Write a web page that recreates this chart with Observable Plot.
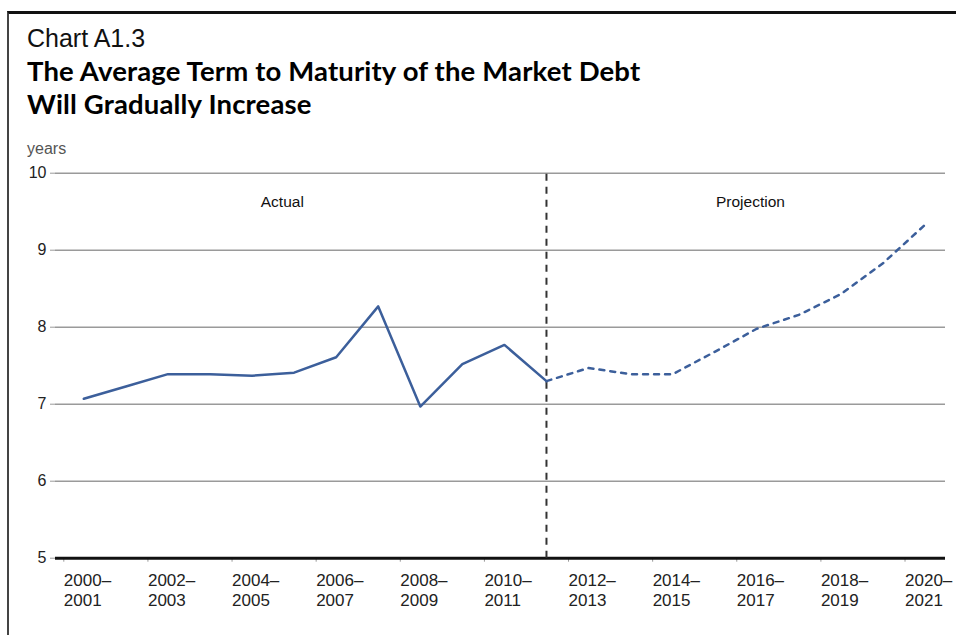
<!DOCTYPE html>
<html>
<head>
<meta charset="utf-8">
<script src="https://cdn.jsdelivr.net/npm/d3@7"></script>
<script src="https://cdn.jsdelivr.net/npm/@observablehq/plot@0.6"></script>
<style>
  html, body { margin: 0; padding: 0; background: #fff; }
  #page { position: relative; width: 956px; height: 635px; overflow: hidden; background: #fff; }
  #frame { position: absolute; left: 7px; top: 11px; width: 960px; height: 640px;
           border-left: 2px solid #444; border-top: 3px solid #111; box-sizing: border-box; }
  .txt { position: absolute; left: 27px; white-space: nowrap; color: #111; }
  #kicker { top: 26px; font: 25px/25px "Liberation Sans", Arial, sans-serif; }
  .title { font: bold 27.5px/28px Lato, "Open Sans", sans-serif; color: #000; letter-spacing: 0.15px; }
  #title1 { top: 57px; }
  #title2 { top: 90px; }
  #unit { top: 141px; font: 16px/16px "Liberation Sans", Arial, sans-serif; color: #555; }
  #chart { position: absolute; left: 0; top: 160px; }
</style>
</head>
<body>
<div id="page">
  <div id="frame"></div>
  <div class="txt" id="kicker">Chart A1.3</div>
  <div class="txt title" id="title1">The Average Term to Maturity of the Market Debt</div>
  <div class="txt title" id="title2">Will Gradually Increase</div>
  <div class="txt" id="unit">years</div>
  <div id="chart"></div>
</div>
<script>
// Fiscal years (start year of each fiscal year)
const actualYears = [2000, 2001, 2002, 2003, 2004, 2005, 2006, 2007, 2008, 2009, 2010, 2011];
const actualValues = [7.07, 7.23, 7.39, 7.39, 7.37, 7.41, 7.61, 8.27, 6.97, 7.52, 7.77, 7.30];
const projYears = [2011, 2012, 2013, 2014, 2015, 2016, 2017, 2018, 2019, 2020];
const projValues = [7.30, 7.47, 7.39, 7.39, 7.68, 7.98, 8.16, 8.43, 8.83, 9.33];
const xTicks = [2000, 2002, 2004, 2006, 2008, 2010, 2012, 2014, 2016, 2018, 2020];
const yTicks = [5, 6, 7, 8, 9, 10];
const dividerYear = [2011];
const periodLabels = ["Actual", "Projection"];
const periodLabelX = [2004.72, 2015.85];
const periodLabelY = [9.62, 9.62];

const actual = actualYears.map((y, i) => ({year: y, value: actualValues[i]}));
const proj = projYears.map((y, i) => ({year: y, value: projValues[i]}));
const labels = periodLabels.map((t, i) => ({text: t, x: periodLabelX[i], y: periodLabelY[i]}));
const lineColor = "#3c5f9b";

const chart = Plot.plot({
  width: 956,
  height: 460,
  marginLeft: 55,
  marginRight: 11,
  marginTop: 12.7,
  marginBottom: 62.3,
  style: {fontFamily: "'Liberation Sans', Arial, sans-serif", background: "transparent"},
  x: {type: "linear", domain: [1999.327, 2020.487]},
  y: {domain: [5, 10]},
  marks: [
    Plot.gridY(yTicks.filter(d => d > 5), {stroke: "#9a9a9a", strokeOpacity: 1, strokeWidth: 1.5}),
    Plot.axisY(yTicks, {tickSize: 5, tickPadding: 4, stroke: "#9a9a9a", fontSize: 16, fill: "#222",
      label: null, tickFormat: d => String(d)}),
    Plot.axisX(xTicks, {
      tickSize: 4, tickPadding: 10, stroke: "#999", fontSize: 17, fill: "#222",
      textAnchor: "start", dx: -20, lineHeight: 1.15, label: null,
      tickFormat: d => `${d}–\n${d + 1}`
    }),
    Plot.ruleY([5], {stroke: "#111", strokeWidth: 3}),
    Plot.ruleX(dividerYear, {y1: 5, y2: 10, stroke: "#333", strokeWidth: 2, strokeDasharray: "7,6"}),
    Plot.line(actual, {x: "year", y: "value", stroke: lineColor, strokeWidth: 2.5}),
    Plot.line(proj, {x: "year", y: "value", stroke: lineColor, strokeWidth: 2.5, strokeDasharray: "5,6"}),
    Plot.text(labels, {x: "x", y: "y", text: "text", fontSize: 15.5, fill: "#111"})
  ]
});
document.getElementById("chart").appendChild(chart);
</script>
</body>
</html>
